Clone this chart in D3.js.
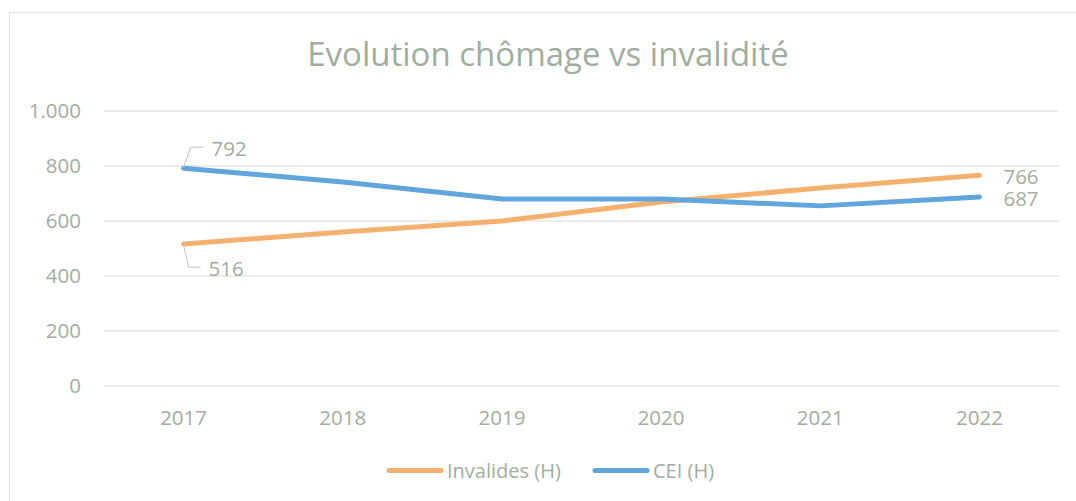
<!DOCTYPE html>
<html>
<head>
<meta charset="utf-8">
<script src="https://cdn.jsdelivr.net/npm/d3@7"></script>
<style>
  body { margin: 0; background: #fff; }
  text { font-family: "Open Sans", sans-serif; }
</style>
</head>
<body>
<div class="chart"></div>
<script>
// data
const years = ["2017", "2018", "2019", "2020", "2021", "2022"]
const invalides = [516, 560, 600, 669, 720, 766]
const cei = [792, 742, 680, 680, 655, 687]
const yTicks = [0, 200, 400, 600, 800, 1000]
const seriesNames = ["Invalides (H)", "CEI (H)"]

const width = 1076
const height = 501
const textColor = "#9fae9e"
const gridColor = "#e4e7e4"
const orange = "#f3b06f"
const blue = "#60a5db"
const labelSize = "20.5px"

const margin = { top: 111, right: 17, bottom: 115, left: 104 }

const svg = d3.select(".chart")
  .append("svg")
  .attr("width", width)
  .attr("height", height)

// chart border (right and bottom edges fall outside the picture)
svg.append("rect")
  .attr("x", 9.5)
  .attr("y", 12.5)
  .attr("width", 1100)
  .attr("height", 520)
  .attr("fill", "none")
  .attr("stroke", "#e0e0e0")

// scales
const xScale = d3.scaleBand()
  .domain(years)
  .range([margin.left, width - margin.right])

const yScale = d3.scaleLinear()
  .domain([0, 1000])
  .range([height - margin.bottom, margin.top])

const cx = (i) => xScale(years[i]) + xScale.bandwidth() / 2

// gridlines
svg.append("g")
  .selectAll("line")
  .data(yTicks)
  .enter()
  .append("line")
  .attr("x1", margin.left)
  .attr("x2", width - margin.right)
  .attr("y1", (d) => yScale(d))
  .attr("y2", (d) => yScale(d))
  .attr("stroke", gridColor)
  .attr("stroke-width", 1.5)

// y-axis labels
const yAxis = d3.axisLeft(yScale)
  .tickValues(yTicks)
  .tickSize(0)
  .tickPadding(23)
  .tickFormat((d) => d3.format(",")(d).replace(",", "."))
svg.append("g")
  .attr("transform", "translate(" + margin.left + ",0)")
  .call(yAxis)
  .call((g) => g.select(".domain").remove())
  .selectAll("text")
  .attr("fill", textColor)
  .style("font-size", labelSize)
  .style("font-family", "'Open Sans', sans-serif")

// x-axis labels
const xAxis = d3.axisBottom(xScale).tickSize(0).tickPadding(24)
svg.append("g")
  .attr("transform", "translate(0," + (height - margin.bottom) + ")")
  .call(xAxis)
  .call((g) => g.select(".domain").remove())
  .selectAll("text")
  .attr("fill", textColor)
  .style("font-size", labelSize)
  .style("font-family", "'Open Sans', sans-serif")

// lines
const line = d3.line()
  .x((d, i) => cx(i))
  .y((d) => yScale(d))

svg.append("path")
  .datum(invalides)
  .attr("d", line)
  .attr("fill", "none")
  .attr("stroke", orange)
  .attr("stroke-width", 5)
  .attr("stroke-linecap", "round")
  .attr("stroke-linejoin", "round")

svg.append("path")
  .datum(cei)
  .attr("d", line)
  .attr("fill", "none")
  .attr("stroke", blue)
  .attr("stroke-width", 5)
  .attr("stroke-linecap", "round")
  .attr("stroke-linejoin", "round")

// leader lines for first-point labels
const x0 = cx(0)
svg.append("path")
  .attr("d", "M" + x0 + "," + (yScale(cei[0]) - 1) + " L" + (x0 + 7) + "," + (yScale(cei[0]) - 21) + " H" + (x0 + 20))
  .attr("fill", "none")
  .attr("stroke", "#c9cfc8")
  .attr("stroke-width", 1.2)
svg.append("path")
  .attr("d", "M" + x0 + "," + (yScale(invalides[0]) + 1) + " L" + (x0 + 5) + "," + (yScale(invalides[0]) + 23) + " H" + (x0 + 17))
  .attr("fill", "none")
  .attr("stroke", "#c9cfc8")
  .attr("stroke-width", 1.2)

// data labels
const labels = [
  { v: cei[0], x: x0 + 28, y: yScale(cei[0]) - 12 },
  { v: invalides[0], x: x0 + 25, y: yScale(invalides[0]) + 32 },
  { v: invalides[5], x: cx(5) + 24, y: yScale(invalides[5]) + 9 },
  { v: cei[5], x: cx(5) + 24, y: yScale(cei[5]) + 9 }
]
svg.selectAll(".dlabel")
  .data(labels)
  .enter()
  .append("text")
  .attr("class", "dlabel")
  .attr("x", (d) => d.x)
  .attr("y", (d) => d.y)
  .attr("fill", textColor)
  .style("font-size", labelSize)
  .text((d) => d.v)

// title
svg.append("text")
  .attr("x", 548)
  .attr("y", 66)
  .attr("text-anchor", "middle")
  .attr("fill", textColor)
  .style("font-size", "33px")
  .text("Evolution chômage vs invalidité")

// legend
const legend = [
  { name: seriesNames[0], color: orange, x: 389 },
  { name: seriesNames[1], color: blue, x: 595 }
]
const lg = svg.selectAll(".legend")
  .data(legend)
  .enter()
  .append("g")
  .attr("class", "legend")
  .attr("transform", (d) => "translate(" + d.x + ",470.5)")
lg.append("line")
  .attr("x1", 0)
  .attr("x2", 52)
  .attr("stroke", (d) => d.color)
  .attr("stroke-width", 5)
  .attr("stroke-linecap", "round")
lg.append("text")
  .attr("x", 58)
  .attr("y", 7)
  .attr("fill", textColor)
  .style("font-size", "20px")
  .text((d) => d.name)
</script>
</body>
</html>
